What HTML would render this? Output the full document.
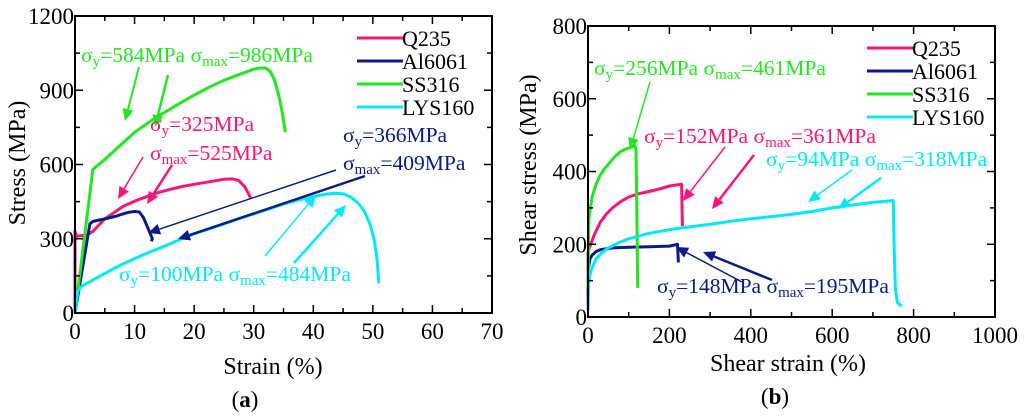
<!DOCTYPE html>
<html><head><meta charset="utf-8">
<style>
html,body{margin:0;padding:0;background:#fff;}
svg{display:block;font-family:"Liberation Serif",serif;}
</style></head>
<body>
<svg id="fig" width="1024" height="416" viewBox="0 0 1024 416">
</svg>
<script>
// ---------- Data (a) ----------
const seriesNames = ["Q235","Al6061","SS316","LYS160"];
const seriesColors = ["#f7157a","#0a1a8a","#22e61e","#00e8ff"];
const aQ235 = [[0,0],[0,330],[0.3,310],[2,315],[3,330],[4,355],[5,380],[6.5,405],[8,430],[10,452],[12,470],[14,487],[16,500],[18,511],[20,520],[22.5,530],[25,540],[26.5,542],[27.5,535],[28.5,510],[29.5,465]];
const aAl6061 = [[0,0],[2.5,360],[3,370],[5,380],[7,392],[8,400],[9,407],[10,410],[10.8,408],[11.5,385],[12.2,345],[13,300],[12.8,290]];
const aSS316 = [[0,0],[3,580],[5,620],[7.5,675],[10,730],[12.5,772],[15,810],[17.5,846],[20,880],[22.5,912],[25,940],[27.5,963],[30,985],[31,990],[32,990],[32.8,975],[33.5,940],[34.2,880],[34.8,810],[35.3,730]];
const aLYS160 = [[0,0],[0.5,90],[1,105],[2,120],[3.5,140],[5,160],[7.5,192],[10,220],[12.5,246],[15,270],[17.5,296],[20,320],[22.5,340],[25,360],[27.5,381],[30,400],[32.5,420],[35,440],[37.5,456],[40,470],[42,480],[43.5,484],[45,482],[46.2,470],[47.5,445],[48.6,410],[49.5,360],[50.2,300],[50.7,220],[51,120]];
const aXTicks = [0,10,20,30,40,50,60,70];
const aYTicks = [0,300,600,900,1200];
// ---------- Data (b) ----------
const bQ235 = [[0,20],[0,180],[5,195],[15,225],[30,260],[45,283],[60,300],[80,317],[100,330],[125,339],[150,345],[175,352],[200,360],[230,365],[232,250]];
const bAl6061 = [[0,130],[5,160],[10,170],[20,180],[30,185],[60,190],[100,192],[150,193],[200,195],[220,200],[222,150]];
const bSS316 = [[0,80],[2,270],[10,330],[20,365],[30,390],[40,407],[50,420],[65,440],[80,455],[100,465],[115,470],[118,460],[120,300],[122,80]];
const bLYS160 = [[0,20],[2,100],[8,130],[20,160],[35,178],[50,190],[75,204],[100,215],[150,230],[200,240],[250,248],[300,255],[350,263],[400,270],[450,276],[500,282],[550,290],[600,300],[650,308],[700,315],[750,320],[752,200],[755,80],[760,40],[770,30]];
const bXTicks = [0,200,400,600,800,1000];
const bYTicks = [0,200,400,600,800];

const NS="http://www.w3.org/2000/svg";
const svg=document.getElementById('fig');
function mk(tag,attrs,parent){const e=document.createElementNS(NS,tag);for(const k in attrs)e.setAttribute(k,attrs[k]);(parent||svg).appendChild(e);return e;}

function panel(cfg){
  const {x0,x1,y0,y1,xmin,xmax,ymin,ymax,xt,yt,xminor,yminor,series,key}=cfg;
  const sx=v=>x0+(v-xmin)/(xmax-xmin)*(x1-x0);
  const sy=v=>y0-(v-ymin)/(ymax-ymin)*(y0-y1);
  const g=mk('g',{});
  
  
  series.forEach((s,i)=>{
    const p=mk('polyline',{points:s.map(d=>sx(d[0]).toFixed(1)+','+sy(d[1]).toFixed(1)).join(' '),fill:'none',stroke:seriesColors[i],'stroke-width':3,'stroke-linejoin':'round'},g);
    
    
  });
  const fr=mk('rect',{x:x0,y:y1,width:x1-x0,height:y0-y1,fill:'none',stroke:'#000','stroke-width':2},g);
  
  
  for(let v=xmin;v<=xmax+1e-9;v+=xminor){
    const major=xt.some(t=>Math.abs(t-v)<1e-9);const L=major?8:5;
    mk('line',{x1:sx(v),x2:sx(v),y1:y0,y2:y0-L,stroke:'#000','stroke-width':1.5},g);
    mk('line',{x1:sx(v),x2:sx(v),y1:y1,y2:y1+L,stroke:'#000','stroke-width':1.5},g);
  }
  for(let v=ymin;v<=ymax+1e-9;v+=yminor){
    const major=yt.some(t=>Math.abs(t-v)<1e-9);const L=major?8:5;
    mk('line',{x1:x0,x2:x0+L,y1:sy(v),y2:sy(v),stroke:'#000','stroke-width':1.5},g);
    mk('line',{x1:x1,x2:x1-L,y1:sy(v),y2:sy(v),stroke:'#000','stroke-width':1.5},g);
  }
  xt.forEach(v=>{const t=mk('text',{x:sx(v),y:y0+26,'text-anchor':'middle','font-size':23},g);t.textContent=v;
    
    });
  yt.forEach(v=>{const t=mk('text',{x:x0-1,y:sy(v)+8,'text-anchor':'end','font-size':23},g);t.textContent=v;
    
    });
  cfg.legend.ys.forEach((ly,i)=>{
    mk('line',{x1:cfg.legend.x,x2:cfg.legend.x+46,y1:ly,y2:ly,stroke:seriesColors[i],'stroke-width':3},g);
    const t=mk('text',{x:cfg.legend.x+45,y:ly+8,'font-size':22},g);t.textContent=seriesNames[i];
    
    
  });
}
panel({key:'a',x0:75,x1:492,y0:313,y1:16,xmin:0,xmax:70,ymin:0,ymax:1200,xt:aXTicks,yt:aYTicks,xminor:5,yminor:150,
  series:[aQ235,aAl6061,aSS316,aLYS160],legend:{x:357,ys:[38,61,84,107]}});
panel({key:'b',x0:588,x1:995,y0:317,y1:26,xmin:0,xmax:1000,ymin:0,ymax:800,xt:bXTicks,yt:bYTicks,xminor:100,yminor:100,
  series:[bQ235,bAl6061,bSS316,bLYS160],legend:{x:867,ys:[48,71,94,117]}});

function sigma(x,y,sub,val,color,name){
  const t=mk('text',{x:x,y:y,'font-size':21.5,fill:color});
  
  
  t.innerHTML='σ<tspan font-size="15" dy="4">'+sub+'</tspan><tspan dy="-4">'+val+'</tspan>';
}
function sig2(x,y,v1,v2,color,name){
  const t=mk('text',{x:x,y:y,'font-size':21.5,fill:color});
  
  
  t.innerHTML='σ<tspan font-size="15" dy="4">y</tspan><tspan dy="-4">='+v1+' σ</tspan><tspan font-size="15" dy="4">max</tspan><tspan dy="-4">='+v2+'</tspan>';
}
function arrow(x1,y1,x2,y2,color,w,name){
  const a=Math.atan2(y2-y1,x2-x1),L=12,H=5.5;
  const bx=x2-L*Math.cos(a),by=y2-L*Math.sin(a);
  const g=mk('g',{});
  
  
  mk('line',{x1:x1,y1:y1,x2:bx,y2:by,stroke:color,'stroke-width':w},g);
  mk('polygon',{points:`${x2},${y2} ${bx-H*Math.sin(a)},${by+H*Math.cos(a)} ${bx+H*Math.sin(a)},${by-H*Math.cos(a)}`,fill:color},g);
}
const G="#22e61e",P="#f7157a",N="#0a1a8a",C="#00e8ff";
sig2(81,62,'584MPa','986MPa',G,'a-ss316-annotation');
arrow(139,67,125,121,G,2,'a-ss316-arrow-yield');
arrow(168,75,155,127,G,2.5,'a-ss316-arrow-max');
sigma(150,131,'y','=325MPa',P,'a-q235-yield-annotation');
sigma(150,160,'max','=525MPa',P,'a-q235-max-annotation');
arrow(143,157,118,199,P,1.5,'a-q235-arrow-yield');
arrow(172,165,147,204,P,2.5,'a-q235-arrow-max');
sigma(343,142,'y','=366MPa',N,'a-al6061-yield-annotation');
sigma(343,170,'max','=409MPa',N,'a-al6061-max-annotation');
arrow(336,170,148,233,N,1.5,'a-al6061-arrow-yield');
arrow(365,176,178,239,N,2.5,'a-al6061-arrow-max');
sig2(119,281,'100MPa','484MPa',C,'a-lys160-annotation');
arrow(265,256,316,195,C,1.5,'a-lys160-arrow-yield');
arrow(294,263,346,205,C,2.5,'a-lys160-arrow-max');
sig2(594,75,'256MPa','461MPa',G,'b-ss316-annotation');
arrow(650,82,630,150,G,1.5,'b-ss316-arrow');
sig2(644,143,'152MPa','361MPa',P,'b-q235-annotation');
arrow(725,147,683,201,P,1.5,'b-q235-arrow-yield');
arrow(754,155,712,209,P,2.5,'b-q235-arrow-max');
sig2(766,166,'94MPa','318MPa',C,'b-lys160-annotation');
arrow(852,170,808,202,C,1.5,'b-lys160-arrow-yield');
arrow(881,178,838,209,C,2.5,'b-lys160-arrow-max');
sig2(657,293,'148MPa','195MPa',N,'b-al6061-annotation');
arrow(742,282,676,247,N,1.5,'b-al6061-arrow-yield');
arrow(772,280,703,252,N,2.5,'b-al6061-arrow-max');

function txt(s,x,y,size,extra,name){const t=mk('text',Object.assign({x:x,y:y,'font-size':size,'text-anchor':'middle'},extra||{}));t.textContent=s;
  
  return t;}
txt('Stress (MPa)',25,163,24,{transform:'rotate(-90 25 163)'},'a-y-axis-title');
txt('Strain (%)',273,374,24,{},'a-x-axis-title');
const la=txt('(a)',245,407,23,{},'a-panel-label');la.innerHTML='(<tspan font-weight="bold">a</tspan>)';
txt('Shear stress (MPa)',536,165,24,{transform:'rotate(-90 536 165)'},'b-y-axis-title');
txt('Shear strain (%)',788,371,24,{},'b-x-axis-title');
const lb=txt('(b)',775,404,23,{},'b-panel-label');lb.innerHTML='(<tspan font-weight="bold">b</tspan>)';
</script>
</body></html>
